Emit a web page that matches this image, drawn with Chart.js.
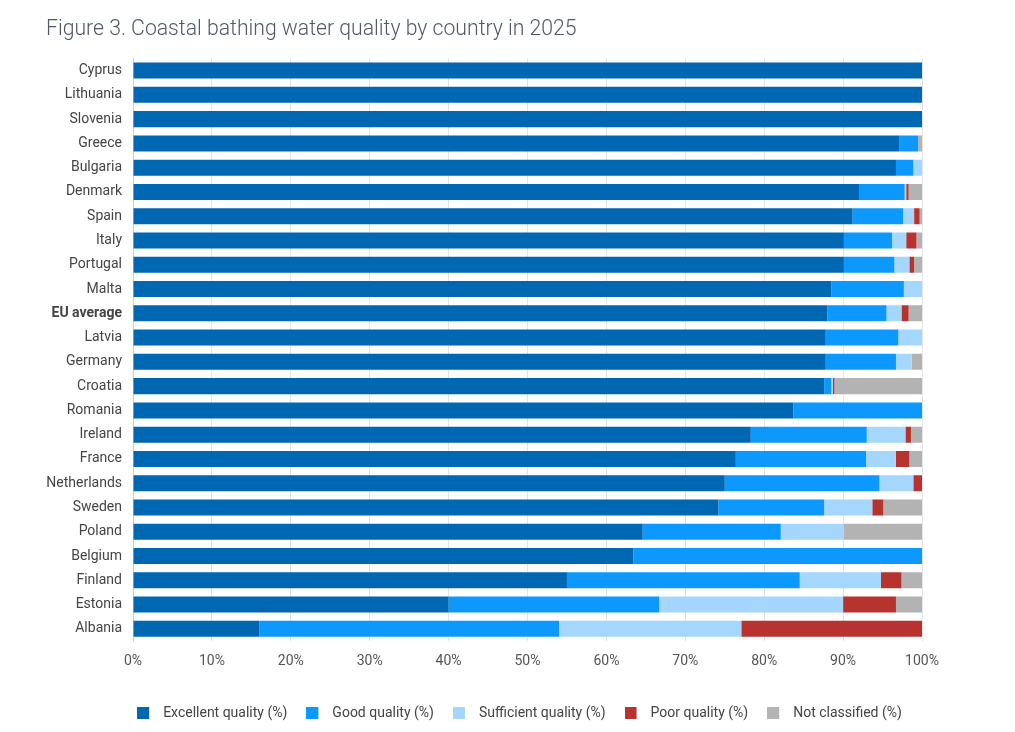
<!DOCTYPE html>
<html>
<head>
<meta charset="utf-8">
<script src="https://cdn.jsdelivr.net/npm/chart.js@4/dist/chart.umd.min.js"></script>
<style>
    html, body { margin: 0; padding: 0; background: #fff; }
    #wrap { width: 1015px; height: 732px; position: relative; }
</style>
</head>
<body>
<div id="wrap"><canvas id="chart"></canvas></div>
<script>
// Countries, top to bottom
const countries = ['Cyprus', 'Lithuania', 'Slovenia', 'Greece', 'Bulgaria', 'Denmark', 'Spain', 'Italy',
    'Portugal', 'Malta', 'EU average', 'Latvia', 'Germany', 'Croatia', 'Romania', 'Ireland', 'France',
    'Netherlands', 'Sweden', 'Poland', 'Belgium', 'Finland', 'Estonia', 'Albania'];

// Shares of bathing waters (%)
const excellent    = [100, 100, 100, 97.1, 96.7, 92.1, 91.2, 90.1, 90.1, 88.5, 88.0, 87.8, 87.8, 87.6, 83.7, 78.3, 76.4, 75.0, 74.2, 64.6, 63.4, 55.0, 40.0, 16.0];
const good         = [0, 0, 0, 2.4, 2.2, 5.7, 6.4, 6.1, 6.4, 9.2, 7.5, 9.2, 8.9, 0.9, 16.3, 14.7, 16.5, 19.6, 13.4, 17.5, 36.6, 29.5, 26.7, 38.0];
const sufficient   = [0, 0, 0, 0, 1.1, 0.2, 1.4, 1.8, 1.9, 2.3, 1.9, 3.0, 2.0, 0.2, 0, 4.9, 3.8, 4.3, 6.1, 8.0, 0, 10.3, 23.3, 23.1];
const poor         = [0, 0, 0, 0, 0, 0.3, 0.7, 1.3, 0.6, 0, 0.9, 0, 0, 0.2, 0, 0.7, 1.7, 1.1, 1.4, 0, 0, 2.6, 6.7, 22.9];
const notClassified = [0, 0, 0, 0.5, 0, 1.7, 0.3, 0.7, 1.0, 0, 1.7, 0, 1.3, 11.1, 0, 1.4, 1.6, 0, 4.9, 9.9, 0, 2.6, 3.3, 0];

const xTicks = [0, 10, 20, 30, 40, 50, 60, 70, 80, 90, 100];

const FONT = "Roboto, 'Open Sans', sans-serif";

// nudge the legend so it sits centred under the bars like the original
const shiftLegend = {
    id: 'shiftLegend',
    afterLayout(chart) {
        chart.legend.left += 35.5;
        chart.legend.right += 35.5;
    }
};

// legend swatch: 12px square with a wider gap before the text
function swatch(color) {
    const c = document.createElement('canvas');
    c.width = 19;
    c.height = 12;
    const g = c.getContext('2d');
    g.fillStyle = color;
    g.fillRect(0, 0, 12, 12);
    return c;
}

function series(label, data, color) {
    return {
        label: label,
        data: data,
        backgroundColor: color,
        borderWidth: 0,
        barPercentage: 0.66,
        categoryPercentage: 1
    };
}

const ctx = document.getElementById('chart').getContext('2d');
new Chart(ctx, {
    type: 'bar',
    data: {
        labels: countries,
        datasets: [
            series('Excellent quality (%)', excellent, '#0067b3'),
            series('Good quality (%)', good, '#0c98fd'),
            series('Sufficient quality (%)', sufficient, '#a5d7fd'),
            series('Poor quality (%)', poor, '#b73330'),
            series('Not classified (%)', notClassified, '#b3b3b3')
        ]
    },
    options: {
        indexAxis: 'y',
        responsive: true,
        maintainAspectRatio: false,
        animation: false,
        layout: {
            padding: { left: 46, right: 93, top: 17, bottom: 2 }
        },
        plugins: {
            title: {
                display: true,
                text: 'Figure 3. Coastal bathing water quality by country in 2025',
                align: 'start',
                color: '#4f5a65',
                font: { family: FONT, size: 21.2, weight: '300' },
                padding: { top: 0, bottom: 16 }
            },
            legend: {
                position: 'bottom',
                labels: {
                    usePointStyle: true,
                    pointStyleWidth: 19,
                    boxHeight: 12,
                    padding: 19,
                    color: '#444',
                    font: { family: FONT, size: 14 },
                    generateLabels: (chart) => {
                        const items = Chart.defaults.plugins.legend.labels.generateLabels(chart);
                        items.forEach(item => {
                            item.pointStyle = swatch(item.fillStyle);
                        });
                        return items;
                    }
                }
            },
            tooltip: { enabled: false }
        },
        scales: {
            x: {
                stacked: true,
                min: 0,
                max: 100,
                afterBuildTicks: (scale) => {
                    scale.ticks = xTicks.map(v => ({ value: v }));
                },
                afterFit: (scale) => {
                    scale.height = 46;
                },
                ticks: {
                    color: '#555',
                    padding: 12,
                    font: { family: FONT, size: 14 },
                    callback: (value) => value + '%'
                },
                grid: {
                    color: '#e3e3e3',
                    drawTicks: false
                },
                border: { display: false }
            },
            y: {
                stacked: true,
                afterFit: (scale) => {
                    scale.width = 87;
                },
                ticks: {
                    color: '#444',
                    padding: 11,
                    font: (c) => ({
                        family: FONT,
                        size: 14,
                        weight: countries[c.index] === 'EU average' ? 'bold' : 'normal'
                    })
                },
                grid: { display: false, drawTicks: false },
                border: { display: true, color: '#cfcfcf' }
            }
        }
    },
    plugins: [shiftLegend]
});
</script>
</body>
</html>
